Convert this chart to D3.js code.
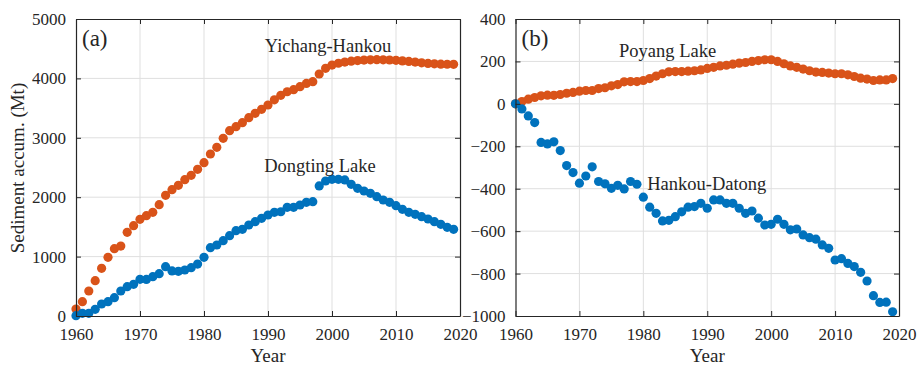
<!DOCTYPE html>
<html>
<head>
<meta charset="utf-8">
<script src="https://cdn.jsdelivr.net/npm/d3@7"></script>
<style>
  html, body { margin: 0; padding: 0; background: #fff; }
  svg { display: block; font-family: "Liberation Serif", "Times New Roman", serif; }
</style>
</head>
<body>
<svg id="chart" width="919" height="365"></svg>
<script>
// Years 1960–2019
const years = d3.range(1960, 2020);

// Panel (a): cumulative sediment (Mt)
const yichangHankou = [
  118, 241, 421, 594, 803, 988, 1133, 1178, 1409, 1520,
  1628, 1689, 1746, 1874, 2031, 2126, 2200, 2295, 2369, 2470,
  2581, 2727, 2840, 2992, 3120, 3187, 3254, 3338, 3412, 3480,
  3552, 3640, 3715, 3775, 3810, 3860, 3915, 3945, 4074, 4170,
  4225, 4255, 4275, 4290, 4300, 4308, 4312, 4315, 4312, 4310,
  4305, 4295, 4285, 4275, 4262, 4252, 4245, 4240, 4238, 4237
];
const dongtingLake = [
  5, 45, 45, 113, 202, 241, 308, 421, 494, 533,
  617, 615, 662, 712, 830, 758, 752, 774, 813, 875,
  988, 1150, 1195, 1268, 1352, 1436, 1459, 1532, 1588, 1644,
  1700, 1746, 1755, 1830, 1830, 1869, 1914, 1925, 2189, 2273,
  2301, 2301, 2290, 2217, 2150, 2104, 2065, 2008, 1953, 1914,
  1857, 1796, 1746, 1712, 1672, 1633, 1588, 1544, 1493, 1459
];

// Panel (b): cumulative sediment (Mt)
const poyangLake = [
  0, 11, 22, 30, 38, 41, 40, 44, 50, 54,
  60, 63, 63, 72, 76, 85, 91, 104, 105, 105,
  110, 119, 131, 142, 151, 152, 152, 154, 156, 160,
  167, 172, 179, 182, 187, 192, 195, 200, 204, 208,
  208, 200, 189, 179, 172, 164, 156, 150, 148, 145,
  142, 142, 137, 129, 121, 117, 110, 113, 113, 119
];
const hankouDatong = [
  0, -24, -57, -88, -182, -189, -179, -220, -291, -324,
  -374, -340, -297, -366, -377, -398, -384, -401, -366, -379,
  -440, -487, -516, -552, -549, -532, -509, -487, -484, -469,
  -492, -453, -453, -469, -469, -492, -516, -505, -539, -571,
  -568, -544, -568, -594, -590, -618, -631, -638, -665, -681,
  -736, -730, -752, -767, -794, -835, -904, -936, -935, -980
];

const xTicks = [1960, 1970, 1980, 1990, 2000, 2010, 2020];
const yTicksA = [0, 1000, 2000, 3000, 4000, 5000];
const yTicksB = [-1000, -800, -600, -400, -200, 0, 200, 400];

const orange = "#D95319";
const blue = "#0072BD";
const axisColor = "#262626";
const gridColor = "#dfdfdf";

const svg = d3.select("#chart");

function drawPanel(cfg) {
  const x = d3.scaleLinear().domain([1960, 2020]).range([cfg.left, cfg.right]);
  const y = d3.scaleLinear().domain(cfg.yDomain).range([cfg.bottom, cfg.top]);
  const g = svg.append("g");

  // grid
  g.append("g").selectAll("line").data(xTicks.slice(1, -1)).join("line")
    .attr("x1", d => x(d)).attr("x2", d => x(d))
    .attr("y1", cfg.top).attr("y2", cfg.bottom)
    .attr("stroke", gridColor).attr("stroke-width", 1);
  g.append("g").selectAll("line").data(cfg.yTicks.slice(1, -1)).join("line")
    .attr("x1", cfg.left).attr("x2", cfg.right)
    .attr("y1", d => y(d)).attr("y2", d => y(d))
    .attr("stroke", gridColor).attr("stroke-width", 1);

  // series
  cfg.series.forEach(s => {
    g.append("g").selectAll("circle").data(s.values).join("circle")
      .attr("cx", (d, i) => x(years[i]))
      .attr("cy", d => y(d))
      .attr("r", 4.6)
      .attr("fill", s.color);
  });

  // axes with inward ticks (box on all sides)
  const tickLen = 5;
  const axB = d3.axisBottom(x).tickValues(xTicks).tickFormat(d3.format("d"))
    .tickSizeInner(-tickLen).tickSizeOuter(0).tickPadding(12);
  const axT = d3.axisTop(x).tickValues(xTicks).tickFormat("")
    .tickSizeInner(-tickLen).tickSizeOuter(0);
  const axL = d3.axisLeft(y).tickValues(cfg.yTicks).tickFormat(d3.format("d"))
    .tickSizeInner(-tickLen).tickSizeOuter(0).tickPadding(10);
  const axR = d3.axisRight(y).tickValues(cfg.yTicks).tickFormat("")
    .tickSizeInner(-tickLen).tickSizeOuter(0);

  const styleAxis = sel => {
    sel.selectAll("path").attr("stroke", axisColor).attr("stroke-width", 1.2);
    sel.selectAll("line").attr("stroke", axisColor).attr("stroke-width", 1);
    sel.selectAll("text").attr("fill", axisColor)
      .style("font-family", "'Liberation Serif', serif").style("font-size", "17px");
  };
  g.append("g").attr("transform", `translate(0,${cfg.bottom})`).call(axB).call(styleAxis);
  g.append("g").attr("transform", `translate(0,${cfg.top})`).call(axT).call(styleAxis);
  g.append("g").attr("transform", `translate(${cfg.left},0)`).call(axL).call(styleAxis);
  g.append("g").attr("transform", `translate(${cfg.right},0)`).call(axR).call(styleAxis);
  g.selectAll(".domain").attr("fill", "none");

  // x axis title
  g.append("text").attr("x", (cfg.left + cfg.right) / 2).attr("y", 362)
    .attr("text-anchor", "middle").attr("fill", axisColor)
    .style("font-size", "19px").text("Year");

  // panel tag
  g.append("text").attr("x", cfg.left + 6).attr("y", 46)
    .attr("fill", axisColor).style("font-size", "23px").text(cfg.tag);

  // series names
  cfg.labels.forEach(l => {
    g.append("text").attr("x", x(l.year)).attr("y", y(l.value))
      .attr("fill", axisColor).style("font-size", "18.5px").text(l.text);
  });
}

drawPanel({
  left: 76, right: 460, top: 19, bottom: 316,
  yDomain: [0, 5000], yTicks: yTicksA, tag: "(a)",
  series: [
    { values: yichangHankou, color: orange },
    { values: dongtingLake, color: blue }
  ],
  labels: [
    { text: "Yichang-Hankou", year: 1989.5, value: 4450 },
    { text: "Dongting Lake", year: 1989.4, value: 2430 }
  ]
});

drawPanel({
  left: 515.5, right: 899, top: 19, bottom: 316,
  yDomain: [-1000, 400], yTicks: yTicksB, tag: "(b)",
  series: [
    { values: poyangLake, color: orange },
    { values: hankouDatong, color: blue }
  ],
  labels: [
    { text: "Poyang Lake", year: 1976.2, value: 221 },
    { text: "Hankou-Datong", year: 1980.6, value: -405 }
  ]
});

// shared y axis title
svg.append("text")
  .attr("transform", "translate(24,168) rotate(-90)")
  .attr("text-anchor", "middle").attr("fill", axisColor)
  .style("font-size", "19px").text("Sediment accum. (Mt)");
</script>
</body>
</html>
